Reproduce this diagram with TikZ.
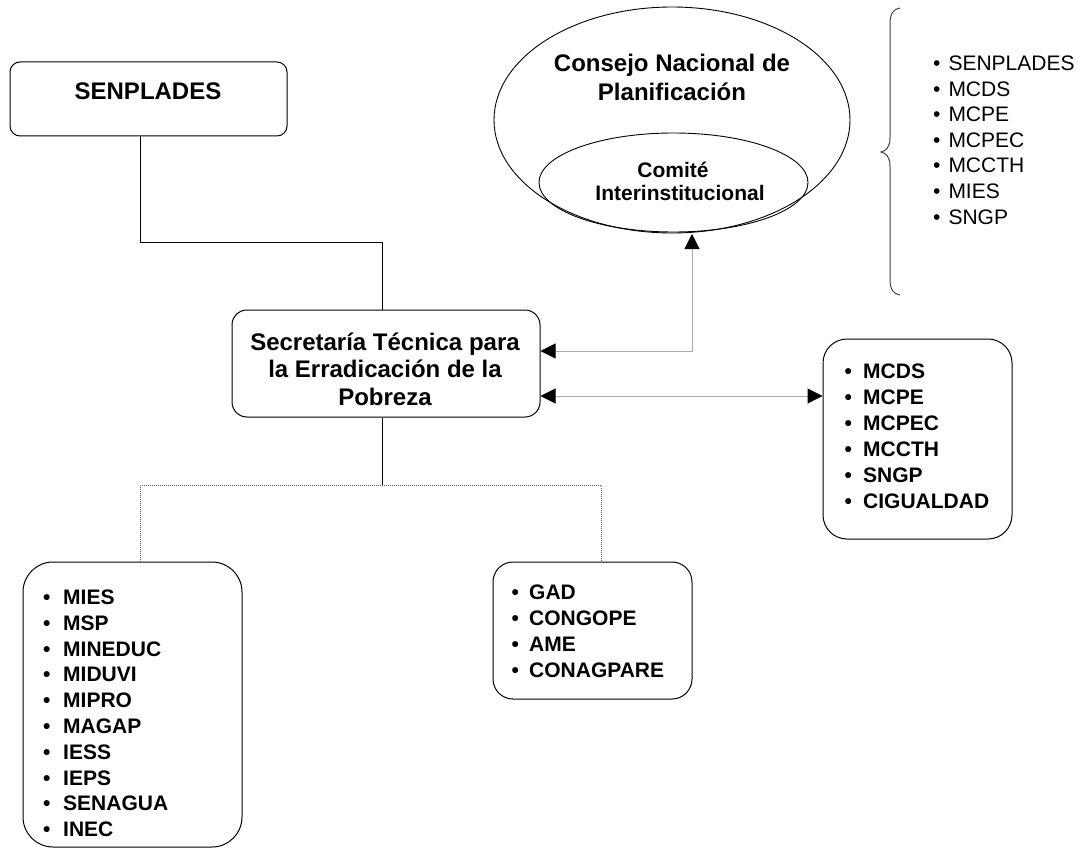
\documentclass[tikz,border=0pt]{standalone}
\usepackage{fontspec}
\setmainfont{Liberation Sans}
\usetikzlibrary{arrows.meta,shapes.geometric}
\definecolor{conn}{RGB}{170,170,170}
\definecolor{dotc}{RGB}{100,100,100}
\newcommand\mybul[1]{\makebox[#1][l]{\textbullet}}
\begin{document}
\begin{tikzpicture}[x=1pt,y=-1pt,
  box/.style={draw,line width=1pt,rounded corners=#1,inner sep=0pt},
  oval/.style={draw,line width=0.9pt,ellipse,inner sep=0pt},
  title/.style={anchor=base,inner sep=0pt,font=\fontsize{24}{28}\selectfont\bfseries},
  subtitle/.style={anchor=base,inner sep=0pt,font=\fontsize{21}{25}\selectfont\bfseries},
  itm/.style={anchor=base west,inner sep=0pt,font=\fontsize{21}{25}\selectfont\bfseries},
  itmr/.style={anchor=base west,inner sep=0pt,font=\fontsize{21}{25}\selectfont},
  solidline/.style={draw,line width=1pt,black},
  dotline/.style={draw,line width=1pt,dotc,dash pattern=on 1pt off 1pt},
  arrowline/.style={draw,line width=1pt,conn,
    {Triangle[length=15pt,width=15pt,color=black]}-{Triangle[length=15pt,width=15pt,color=black]}},
  bracestyle/.style={draw,line width=1pt,black!75}
]
\useasboundingbox (0,0) rectangle (1081,856);

% boxes
\node[box=10pt,minimum width=277pt,minimum height=74pt] (senbox) at (148.5,99) {};
\node[title] (sentxt) at (148,99.6) {SENPLADES};

\node[box=15pt,minimum width=308pt,minimum height=107pt] (sec) at (386,363.5) {};
\node[title] (sec1) at (385,350) {Secretaría Técnica para};
\node[title] (sec2) at (385,377.5) {la Erradicación de la};
\node[title] (sec3) at (385,405) {Pobreza};

\node[box=24pt,minimum width=189pt,minimum height=200pt] (rbox) at (917.5,439) {};
\node[box=30pt,minimum width=219pt,minimum height=285pt] (blbox) at (132.5,704.5) {};
\node[box=20pt,minimum width=199pt,minimum height=137pt] (bmbox) at (592.5,630.5) {};

% ellipses
\node[oval,minimum width=356pt,minimum height=226pt] (cnp) at (672,120) {};
\node[oval,minimum width=269pt,minimum height=99pt] (cit) at (673.5,182.5) {};
\node[title] (cnp1) at (672,71.5) {Consejo Nacional de};
\node[title] (cnp2) at (672,100.6) {Planificación};
\node[subtitle] (cit1) at (673,177.5) {Comité};
\node[subtitle] (cit2) at (680,200.5) {Interinstitucional};

% lists
\foreach \t [count=\i from 0] in {MCDS,MCPE,MCPEC,MCCTH,SNGP,CIGUALDAD}
  \node[itm] (r\i) at (844.3,{378.5+26*\i}) {\mybul{18.7pt}\t};
\foreach \t [count=\i from 0] in {MIES,MSP,MINEDUC,MIDUVI,MIPRO,MAGAP,IESS,IEPS,SENAGUA,INEC}
  \node[itm] (b\i) at (43,{604.5+25.8*\i}) {\mybul{20pt}\t};
\foreach \t [count=\i from 0] in {GAD,CONGOPE,AME,CONAGPARE}
  \node[itm] (m\i) at (511.3,{599.5+25.9*\i}) {\mybul{17.7pt}\t};
\foreach \t [count=\i from 0] in {SENPLADES,MCDS,MCPE,MCPEC,MCCTH,MIES,SNGP}
  \node[itmr] (l\i) at (933,{70.5+25.6*\i}) {\mybul{15.3pt}\t};

% brace
\draw[bracestyle] (900,8) .. controls (893,9) and (890,14) .. (890,24) -- (890,138)
  .. controls (890,147) and (886,151) .. (881,152)
  .. controls (886,153) and (890,157) .. (890,166) -- (890,279)
  .. controls (890,289) and (893,294) .. (900,295);

% connectors
\coordinate (j1) at (140,242);
\coordinate (j2) at (382,242);
\coordinate (j3) at (382,485);
\coordinate (d1) at (140,485);
\coordinate (d2) at (601,485);
\coordinate (a1) at (692,351);
\coordinate (a1top) at (692,234);
\coordinate (a2) at (700,396);

\path[solidline] (senbox.south -| j1) -- (j1) -- (j2) -- (sec.north -| j2);
\path[solidline] (sec.south -| j2) -- (j3);
\path[dotline] (blbox.north -| d1) -- (d1) -- (d2) -- (bmbox.north -| d2);

\path[arrowline] (sec.east |- a1) -- (a1) -- (a1top);
\path[arrowline] (sec.east |- a2) -- (rbox.west |- a2);
\end{tikzpicture}
\end{document}
